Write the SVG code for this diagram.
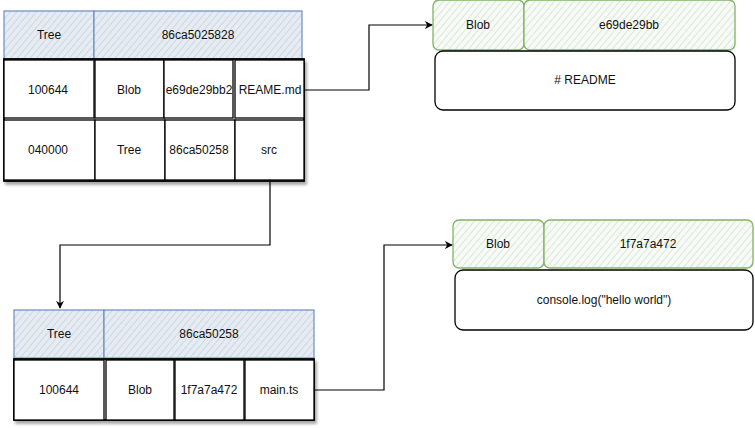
<svg xmlns="http://www.w3.org/2000/svg" width="755" height="428" viewBox="0 0 755 428">
<defs>
<pattern id="hb" patternUnits="userSpaceOnUse" width="5" height="5" patternTransform="rotate(40)">
<rect width="5" height="5" fill="#e7ecf3"/>
<line x1="0" y1="0" x2="0" y2="5" stroke="#c6d1e1" stroke-width="1.6"/>
</pattern>
<pattern id="hg" patternUnits="userSpaceOnUse" width="5" height="5" patternTransform="rotate(40)">
<rect width="5" height="5" fill="#f7faf6"/>
<line x1="0" y1="0" x2="0" y2="5" stroke="#c6ddc0" stroke-width="1.2"/>
</pattern>
<filter id="sh" x="-5%" y="-5%" width="115%" height="125%">
<feGaussianBlur in="SourceAlpha" stdDeviation="1.5"/>
<feOffset dx="2" dy="3" result="b"/>
<feComponentTransfer><feFuncA type="linear" slope="0.35"/></feComponentTransfer>
<feMerge><feMergeNode/><feMergeNode in="SourceGraphic"/></feMerge>
</filter>
<marker id="ar" viewBox="0 0 10 10" refX="9" refY="5" markerWidth="8" markerHeight="8" orient="auto" markerUnits="userSpaceOnUse">
<path d="M0,0 L10,5 L0,10 L3,5 Z" fill="#000"/>
</marker>
</defs>
<style>
text{font-family:"Liberation Sans",Arial,sans-serif;font-size:12px;fill:#111;text-anchor:middle;dominant-baseline:central}
.hd{fill:url(#hb);stroke:#6c8ebf;stroke-width:1.2}
.gn{fill:url(#hg);stroke:#82b366;stroke-width:1.3}
.c{fill:#fff;stroke:#000;stroke-width:1.3}
.o{fill:#fff;stroke:#000;stroke-width:1.8}
.cn{fill:none;stroke:#000;stroke-width:1.2}
</style>

<g id="tree1">
<rect class="hd" x="4" y="11" width="90" height="48"/>
<rect class="hd" x="94" y="11" width="208" height="48"/>
<rect class="o" x="4" y="59" width="300" height="122" filter="url(#sh)"/>
<rect class="c" x="4" y="60" width="90" height="58"/>
<rect class="c" x="95" y="60" width="69" height="58"/>
<rect class="c" x="164" y="60" width="69" height="58"/>
<rect class="c" x="235" y="60" width="69" height="58"/>
<rect class="c" x="4" y="120" width="91" height="60"/>
<rect class="c" x="95" y="120" width="70" height="60"/>
<rect class="c" x="165" y="120" width="70" height="60"/>
<rect class="c" x="235" y="120" width="69" height="60"/>
<text x="49" y="35">Tree</text>
<text x="198" y="35">86ca5025828</text>
<text x="48" y="90">100644</text>
<text x="129" y="90">Blob</text>
<text x="199" y="90">e69de29bb2</text>
<text x="270" y="90">REAME.md</text>
<text x="48" y="150">040000</text>
<text x="129" y="150">Tree</text>
<text x="199" y="150">86ca50258</text>
<text x="269" y="150">src</text>
</g>

<g id="blob1">
<rect class="gn" x="433" y="0" width="91" height="50" rx="6"/>
<rect class="gn" x="524" y="0" width="211" height="50" rx="6"/>
<rect class="c" x="435" y="51" width="300" height="59" rx="8"/>
<text x="478" y="25">Blob</text>
<text x="629" y="25">e69de29bb</text>
<text x="585" y="80"># README</text>
</g>

<g id="tree2">
<rect class="hd" x="14" y="310" width="90" height="48"/>
<rect class="hd" x="104" y="310" width="210" height="48"/>
<rect class="o" x="14" y="359" width="300" height="61" filter="url(#sh)"/>
<rect class="c" x="14" y="360" width="90" height="60"/>
<rect class="c" x="106" y="360" width="68" height="60"/>
<rect class="c" x="175" y="360" width="69" height="60"/>
<rect class="c" x="245" y="360" width="69" height="60"/>
<text x="59" y="334">Tree</text>
<text x="209" y="334">86ca50258</text>
<text x="59" y="390">100644</text>
<text x="140" y="390">Blob</text>
<text x="209" y="390">1f7a7a472</text>
<text x="279" y="390">main.ts</text>
</g>

<g id="blob2">
<rect class="gn" x="453" y="220" width="91" height="48" rx="6"/>
<rect class="gn" x="544" y="220" width="209" height="48" rx="6"/>
<rect class="c" x="455" y="270" width="298" height="60" rx="8"/>
<text x="498" y="244">Blob</text>
<text x="648" y="244">1f7a7a472</text>
<text x="604" y="300">console.log("hello world")</text>
</g>

<g id="connectors">
<path class="cn" d="M305,90 H369 V25 H432" marker-end="url(#ar)"/>
<path class="cn" d="M270,182 V245 H60 V308" marker-end="url(#ar)"/>
<path class="cn" d="M314,390 H384 V245 H452" marker-end="url(#ar)"/>
</g>
</svg>
